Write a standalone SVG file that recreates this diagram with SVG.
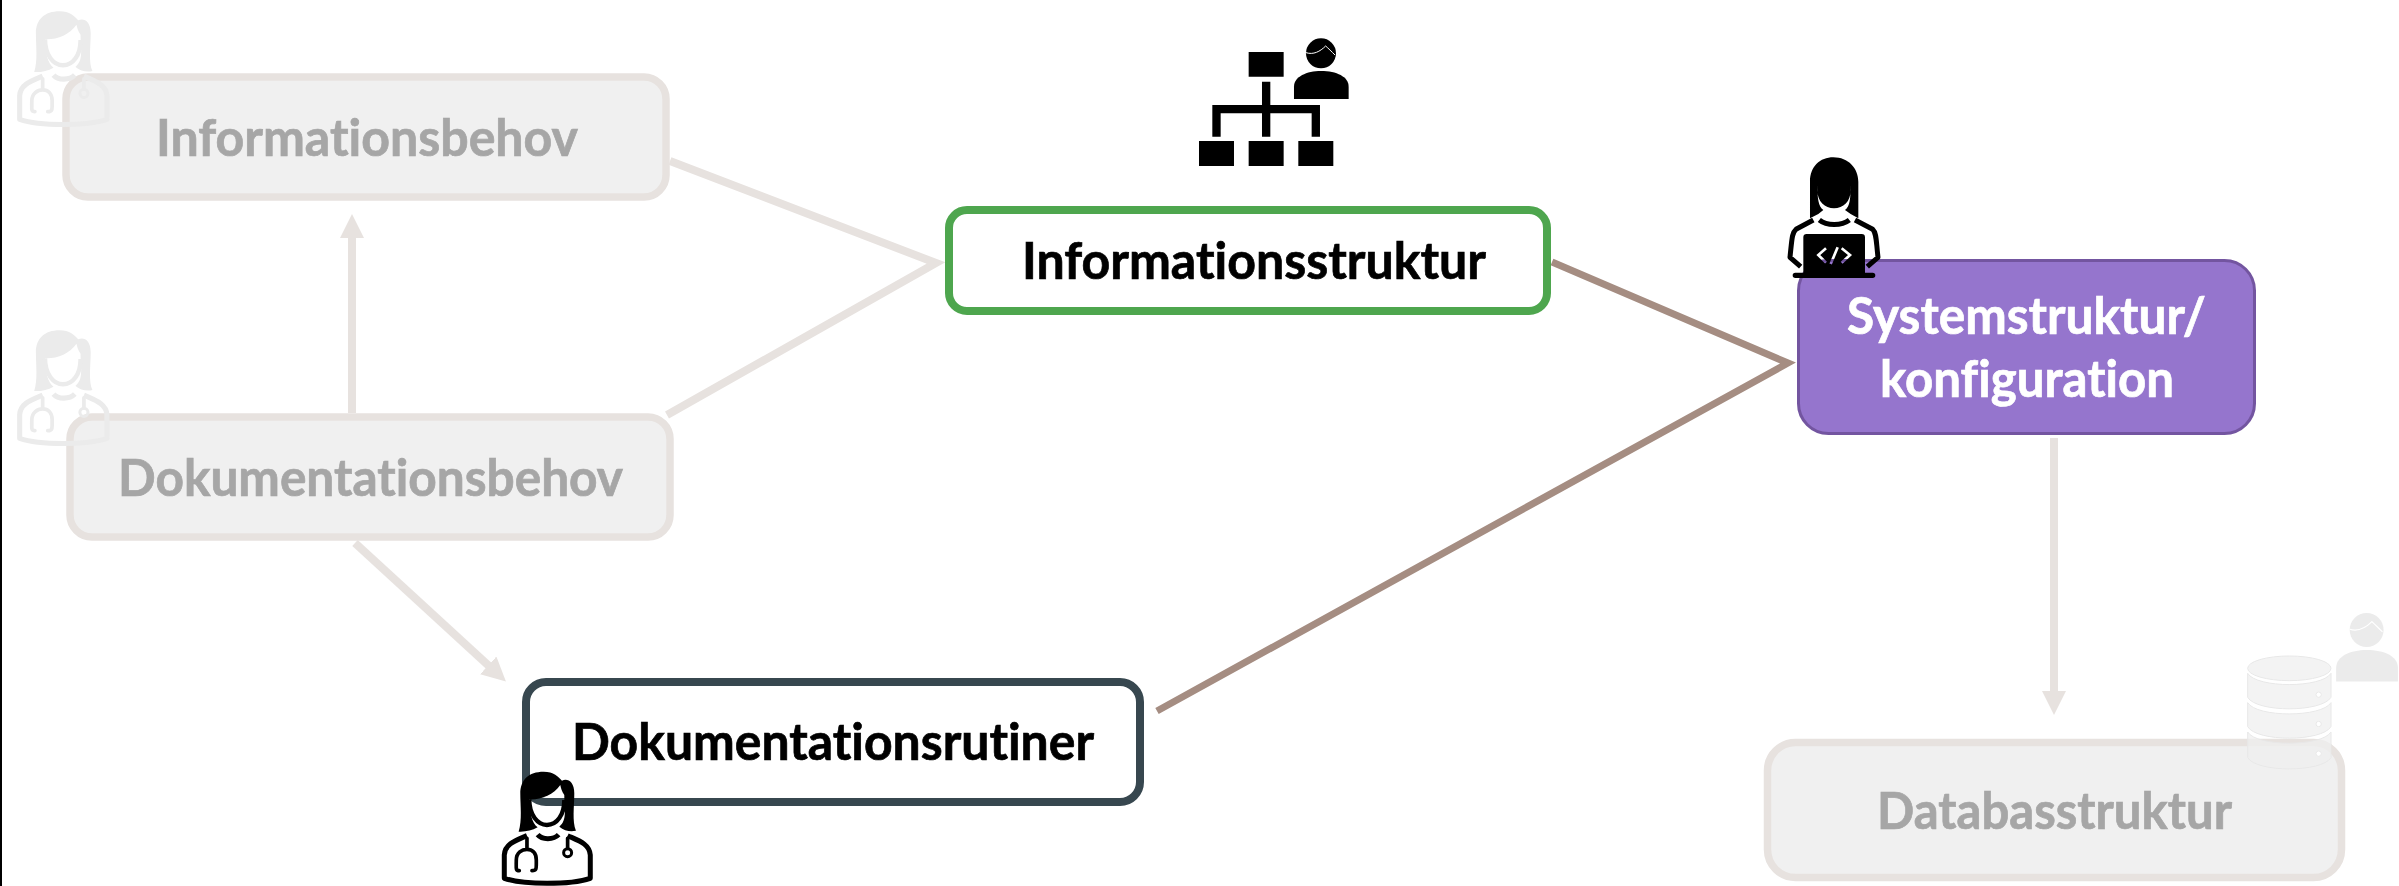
<svg xmlns="http://www.w3.org/2000/svg" width="2399" height="886" viewBox="0 0 2399 886">
<style>
text{font-family:"Lato","Liberation Sans",sans-serif;font-weight:700;font-size:51px;font-variant-ligatures:none;stroke-width:.7px}
.t{fill:#000;stroke:#000}.f{fill:#a6a6a6;stroke:#a6a6a6}.w{fill:#fff;stroke:#fff}
.fb{fill:#f0f0f0;stroke:#e7e2df;stroke-width:7.500px}
.c1{stroke:#e7e2df;stroke-width:8px;fill:none}
.c2{stroke:#a58d82;stroke-width:7px;fill:none}
.ic{color:#000}.fd{color:#ebebeb}
</style>
<defs>
<marker id="ah" markerUnits="userSpaceOnUse" markerWidth="26" markerHeight="26" refX="1" refY="12" orient="auto"><path d="M0 0L24 12L0 24Z" fill="#e7e2df"/></marker>
<g id="doctor">
<path fill="currentColor" fill-rule="evenodd" d="M175 275C186 240 180 200 180 160C180 120 205 95 250 95C280 95 295 110 305 122C322 114 342 125 342 160C342 200 335 245 347 272C330 276 312 272 297 260C322 240 312 205 312 165C305 155 302 145 300 135C280 165 240 180 207 178C207 215 215 250 232 262C215 272 195 276 175 275Z"/>
<path fill="none" stroke="currentColor" stroke-width="13" d="M207 178C207 225 232 255 260 255C290 255 312 225 312 180"/>
<path fill="none" stroke="currentColor" stroke-width="15" stroke-linejoin="round" d="M200 287C165 302 134 312 132 345L132 415C190 435 330 435 390 415L390 345C388 312 355 302 322 287M232 284C245 300 280 300 295 284"/>
<path fill="none" stroke="currentColor" stroke-width="11" stroke-linecap="round" d="M200 295L200 328M177 392C165 392 168 385 168 360C168 338 185 328 200 328C215 328 228 338 228 360C228 385 230 392 215 392M322 295L322 325"/>
<circle cx="322" cy="338" r="12" fill="none" stroke="currentColor" stroke-width="9"/>
</g>
<g id="person">
<path fill="currentColor" d="M402 237L402 200C402 170 440 153 483 153C530 153 566 170 566 200L566 237Z"/>
<circle cx="483" cy="100" r="45" fill="currentColor"/>
<path fill="none" stroke="#fff" stroke-width="3" d="M438 98C460 105 480 95 497 78C505 85 515 95 525 105"/>
</g>
<mask id="codeHole" maskUnits="userSpaceOnUse" x="1760" y="140" width="240" height="160">
<rect x="1760" y="140" width="240" height="160" fill="#fff"/>
<g transform="translate(1760 140) scale(.3333)" fill="none" stroke="#000" stroke-width="8"><path d="M198 325L175 345L198 368M245 325L270 345L245 368M233 322L212 372"/></g>
</mask>
</defs>
<rect x="0" y="0" width="2" height="886" fill="#000"/>
<g id="connectors">
<path class="c1" d="M352 413L352 237" marker-end="url(#ah)"/>
<path class="c1" d="M355 543L489 666" marker-end="url(#ah)"/>
<path class="c1" d="M2054 438L2054 692" marker-end="url(#ah)"/>
<path class="c1" d="M670 161L936 263L667 415"/>
<path class="c2" d="M1552 262L1788 363L1157 711"/>
</g>
<g id="n-informationsbehov">
<rect class="fb" x="66" y="77" width="600" height="120" rx="22"/>
<text class="f" x="367" y="156" text-anchor="middle" textLength="422" lengthAdjust="spacingAndGlyphs">Informationsbehov</text>
<use href="#doctor" class="fd" transform="translate(-25 -21) scale(.3383)"/>
</g>
<g id="n-dokumentationsbehov">
<rect class="fb" x="70" y="417" width="600" height="120" rx="22"/>
<text class="f" x="370.500" y="496" text-anchor="middle" textLength="505" lengthAdjust="spacingAndGlyphs">Dokumentationsbehov</text>
<use href="#doctor" class="fd" transform="translate(-25 298) scale(.3383)"/>
</g>
<g id="n-informationsstruktur">
<rect x="949" y="210" width="598" height="101" rx="18" fill="#fff" stroke="#4ea64e" stroke-width="8"/>
<text class="t" x="1254" y="279" text-anchor="middle" textLength="464" lengthAdjust="spacingAndGlyphs">Informationsstruktur</text>
<g class="ic" transform="translate(1160 20) scale(.3333)">
<path fill="#000" d="M266 96H371V170H266ZM117 363H222V438H117ZM266 363H371V438H266ZM415 363H520V438H415ZM306 185H331V255H480V350H455V280H331V350H306V280H182V350H157V255H306Z"/>
<use href="#person"/>
</g>
</g>
<g id="n-systemstruktur">
<rect x="1798.500" y="260.500" width="456" height="173" rx="30" fill="#9575cd" stroke="#7355a0" stroke-width="3"/>
<text class="w" x="2026.500" y="334" text-anchor="middle" textLength="359" lengthAdjust="spacingAndGlyphs">Systemstruktur/</text>
<text class="w" x="2027" y="397" text-anchor="middle" textLength="294" lengthAdjust="spacingAndGlyphs">konfiguration</text>
<g transform="translate(1760 140) scale(.3333)">
<path fill="#000" fill-rule="evenodd" d="M150 235L150 125C150 80 180 52 220 52C265 52 295 85 295 125L295 235L272 222L255 210C270 200 272 175 272 128L172 128C172 175 175 200 190 210L175 222ZM172 128L172 150C172 185 195 205 222 205C250 205 272 185 272 150L272 128Z"/>
<path fill="none" stroke="#000" stroke-width="15" stroke-linejoin="round" d="M160 240L108 268C96 278 96 295 90 352L122 380M285 240L338 268C350 280 348 300 354 352L322 380M178 240C200 258 245 258 268 240"/>
</g>
<g mask="url(#codeHole)">
<g transform="translate(1760 140) scale(.3333)"><path fill="#000" d="M130 395V292Q130 282 140 282H305Q315 282 315 292V398H338Q346 398 346 406Q346 414 338 414H106Q98 414 98 406Q98 398 106 398H130Z"/></g>
</g>
</g>
<g id="n-dokumentationsrutiner">
<rect x="526" y="682" width="614" height="120" rx="20" fill="#fff" stroke="#37474f" stroke-width="8"/>
<text class="t" x="833" y="760" text-anchor="middle" textLength="522" lengthAdjust="spacingAndGlyphs">Dokumentationsrutiner</text>
<use href="#doctor" class="ic" transform="translate(460.300 740) scale(.3333)"/>
</g>
<g id="n-databasstruktur">
<rect class="fb" x="1767.500" y="742.500" width="574" height="135" rx="28"/>
<text class="f" x="2054.500" y="829" text-anchor="middle" textLength="355" lengthAdjust="spacingAndGlyphs">Databasstruktur</text>
<g transform="translate(2200 600) scale(.3333)" fill="#efefef" fill-opacity=".75" stroke="#e8e8e8" stroke-width="3">
<ellipse cx="268" cy="205" rx="125" ry="37"/>
<path d="M143 220C170 265 365 265 393 220L393 292C365 338 170 338 143 292Z"/>
<path d="M143 308C170 353 365 353 393 308L393 380C365 426 170 426 143 380Z"/>
<path d="M143 396C170 441 365 441 393 396L393 473C365 518 170 518 143 473Z"/>
<g fill="#fff" fill-opacity="1"><circle cx="356" cy="284" r="8"/><circle cx="356" cy="372" r="8"/><circle cx="356" cy="461" r="8"/></g>
</g>
<g transform="translate(2200 600) scale(.3333) translate(500 90) scale(1.13) translate(-483 -100)" class="fd"><use href="#person"/></g>
</g>
</svg>
